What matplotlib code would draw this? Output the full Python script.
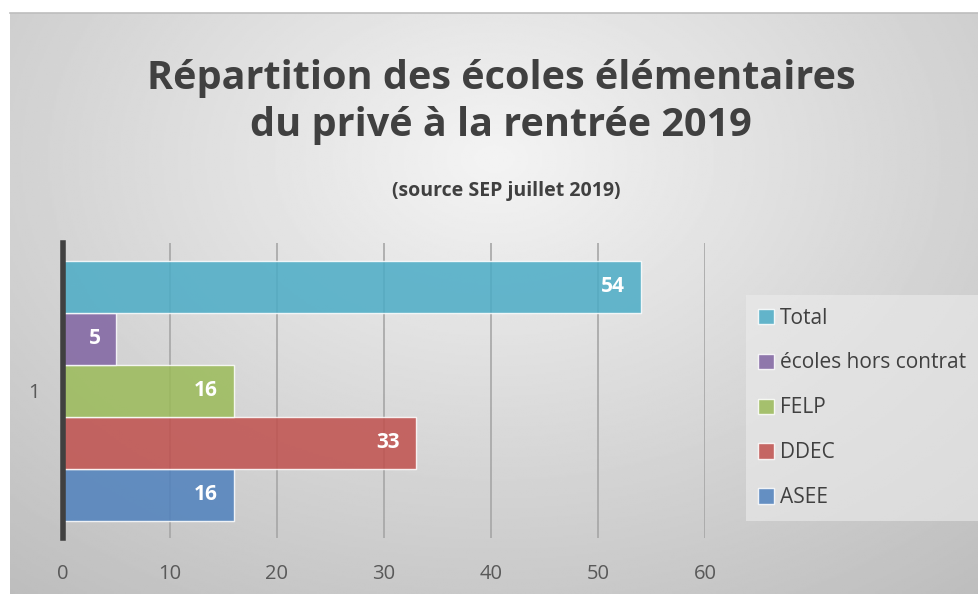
import numpy as np
import matplotlib
matplotlib.use("Agg")
import matplotlib.pyplot as plt

series = ["ASEE", "DDEC", "FELP", "écoles hors contrat", "Total"]
values = [16, 33, 16, 5, 54]
colors = ["#4f81bd", "#c0504d", "#9bbb59", "#8064a2", "#4bacc6"]
category = ["1"]
xticks = [0, 10, 20, 30, 40, 50, 60]

title = "Répartition des écoles élémentaires\ndu privé à la rentrée 2019"
subtitle = "(source SEP juillet 2019)"

W, H = 979, 594
fig = plt.figure(figsize=(W / 100, H / 100), dpi=100)
fig.patch.set_facecolor("white")

# background gradient panel
bg = fig.add_axes([10 / W, 0, 1 - 10 / W, 1 - 13 / H])
yy, xx = np.mgrid[0:1:300j, 0:1:500j]
d = np.sqrt(((xx - 0.5) / 0.75) ** 2 + ((yy - 0.25) / 0.9) ** 2)
img = 0.955 - 0.2 * np.clip(d, 0, 1.2)
bg.imshow(img, cmap="gray", vmin=0, vmax=1, aspect="auto", extent=[0, 1, 1, 0])
bg.set_xlim(0, 1)
bg.set_ylim(1, 0)
bg.axis("off")
fig.add_artist(plt.Line2D([10 / W, 1], [1 - 13 / H, 1 - 13 / H], color="#bdbdbd", lw=1.2))

fname = ["Open Sans", "DejaVu Sans"]
fig.text(0.512, 1 - 102 / H, title, ha="center", va="center", fontsize=28.5,
         fontweight="bold", color="#404040", family=fname, linespacing=1.25)
fig.text(0.517, 1 - 191 / H, subtitle, ha="center", va="center", fontsize=14,
         fontweight="bold", color="#404040", family=fname)

ax = fig.add_axes([63 / W, 1 - 538 / H, (705 - 63) / W, (538 - 243) / H])
ax.patch.set_alpha(0)
h = 52 / 295
center = 0.5
for i, (s, v, c) in enumerate(zip(series, values, colors)):
    yc = center + (i - 2) * h
    ax.barh(yc, v, height=h, color=c, alpha=0.85, edgecolor="white", linewidth=1.0, label=s, zorder=3)
    ax.text(v - 1.5, yc, str(v), ha="right", va="center", color="white", fontsize=15,
            fontweight="bold", family=fname, zorder=4)

ax.set_xlim(0, 60)
ax.set_ylim(0, 1)
ax.set_xticks(xticks)
ax.set_xticklabels([str(t) for t in xticks])
ax.set_yticks([center])
ax.set_yticklabels(category)
ax.grid(axis="x", color="#a6a6a6", lw=1.2, zorder=1)
for sp in ["top", "right", "bottom"]:
    ax.spines[sp].set_visible(False)
ax.spines["left"].set_color("#404040")
ax.spines["left"].set_linewidth(4)
ax.spines["left"].set_zorder(5)
ax.tick_params(axis="both", length=0, labelsize=14.5, labelcolor="#595959")
ax.tick_params(axis="x", pad=19)
ax.tick_params(axis="y", pad=17)
for lab in ax.get_xticklabels() + ax.get_yticklabels():
    lab.set_family(fname)

handles, labels = ax.get_legend_handles_labels()
leg = fig.legend(handles[::-1], labels[::-1], loc="upper left",
                 bbox_to_anchor=(746 / W, 1 - 295 / H), frameon=True, fancybox=False,
                 prop={"family": fname, "size": 15}, labelcolor="#404040",
                 handlelength=0.75, handleheight=0.75, handletextpad=0.3,
                 labelspacing=1.15, borderpad=0.6, borderaxespad=0)
leg.get_frame().set_facecolor("#ececec")
leg.get_frame().set_alpha(0.6)
leg.get_frame().set_edgecolor("none")

fig.savefig("out.png", dpi=100)
